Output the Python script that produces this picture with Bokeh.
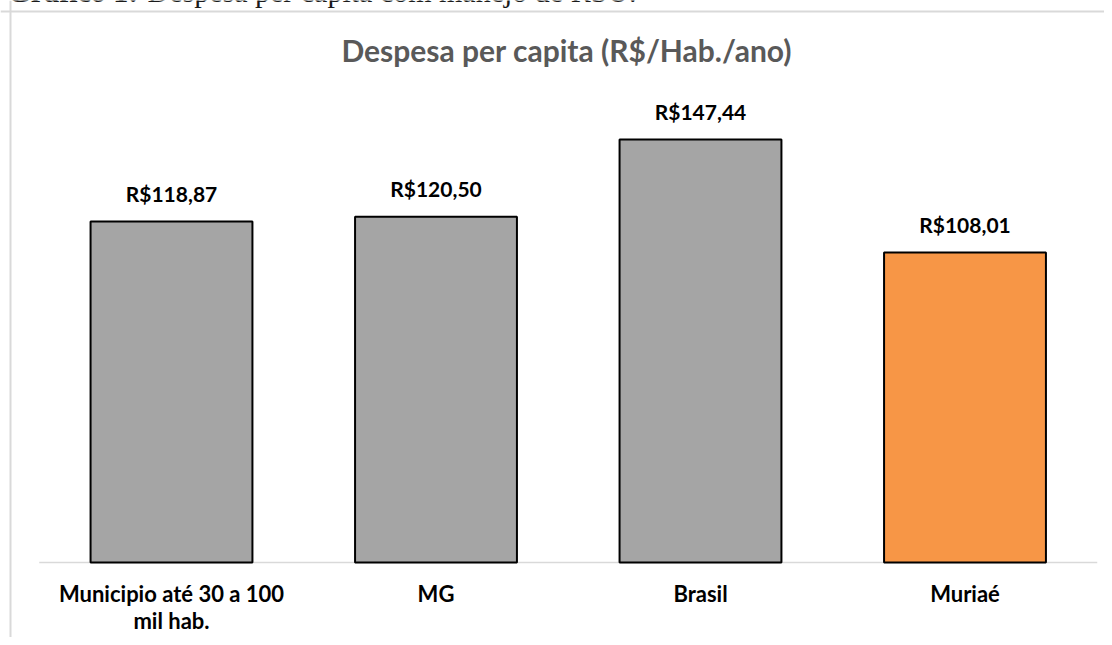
from bokeh.plotting import figure
from bokeh.models import ColumnDataSource, Range1d, Span
from bokeh.core.properties import value
from bokeh.embed import file_html
from bokeh.resources import INLINE

# ---- data ----
categories = ["Municipio até 30 a 100\nmil hab.", "MG", "Brasil", "Muriaé"]
despesa = [118.87, 120.50, 147.44, 108.01]
bar_colors = ["#a5a5a5", "#a5a5a5", "#a5a5a5", "#f79646"]
labels = ["R$" + f"{v:.2f}".replace(".", ",") for v in despesa]
title_text = "Despesa per capita (R$/Hab./ano)"
caption_bold = "Gráfico 1:"
caption_text = "Despesa per capita com manejo de RSU."

positions = list(range(len(categories)))
src = ColumnDataSource(dict(x=positions, cat=categories, val=despesa,
                            color=bar_colors, lab=labels))

FONT = "Lato"
SERIF = "Liberation Serif"

# ---- layout geometry (pixels on the canvas) ----
W, H = 1104, 637
first_center_px = 171.0      # centre of first category
step_px = 264.5              # distance between category centres
base_px = 562.0              # y of the zero line
px_per_unit = 2.869          # vertical pixels per R$

x0 = -first_center_px / step_px
x1 = (W - first_center_px) / step_px
y1 = base_px / px_per_unit
y0 = -(H - base_px) / px_per_unit

p = figure(
    x_range=Range1d(x0, x1), y_range=Range1d(y0, y1),
    width=W, height=H,
    output_backend="svg", toolbar_location=None,
    x_axis_location=None, y_axis_location=None,
    min_border=0,
)
p.outline_line_color = None
p.grid.grid_line_color = None
p.background_fill_color = "white"
p.border_fill_color = "white"

# document caption (only its lower edge shows at the top of the picture)
p.text(x=[x0], y=[y1], text=[caption_bold], x_offset=7, y_offset=-9,
       text_align="left", text_baseline="alphabetic",
       text_font=value(SERIF), text_font_style="bold", text_font_size="30px",
       text_color="#1a1a1a")
p.text(x=[x0], y=[y1], text=[caption_text], x_offset=147, y_offset=-9,
       text_align="left", text_baseline="alphabetic",
       text_font=value(SERIF), text_font_size="30px", text_color="#1a1a1a")

# chart border (left and top)
p.add_layout(Span(location=x0 + 10 / step_px, dimension="height",
                  line_color="#d9d9d9", line_width=2))
p.add_layout(Span(location=y1 - 11 / px_per_unit, dimension="width",
                  line_color="#d9d9d9", line_width=2))

# zero line
p.segment(x0=[positions[0] - 0.5], x1=[positions[-1] + 0.5], y0=[0], y1=[0],
          line_color="#d9d9d9", line_width=1.5)

p.vbar(x="x", top="val", width=0.612, bottom=0, fill_color="color",
       line_color="black", line_width=2, source=src)

# value labels
p.text(x="x", y="val", text="lab", source=src, y_offset=-28,
       text_align="center", text_baseline="alphabetic",
       text_font=value(FONT), text_font_style="bold", text_font_size="21px",
       text_color="black")

# category labels
p.text(x="x", y=0, text="cat", source=src, y_offset=17,
       text_align="center", text_baseline="top", text_line_height=1.0,
       text_font=value(FONT), text_font_style="bold", text_font_size="22px",
       text_color="black")

# title
p.text(x=[(positions[0] + positions[-1]) / 2], y=[y1], text=[title_text],
       x_offset=-1.5, y_offset=49,
       text_align="center", text_baseline="alphabetic",
       text_font=value(FONT), text_font_style="bold", text_font_size="30px",
       text_color="#595959")

open("out.html", "w").write(file_html(p, INLINE))
